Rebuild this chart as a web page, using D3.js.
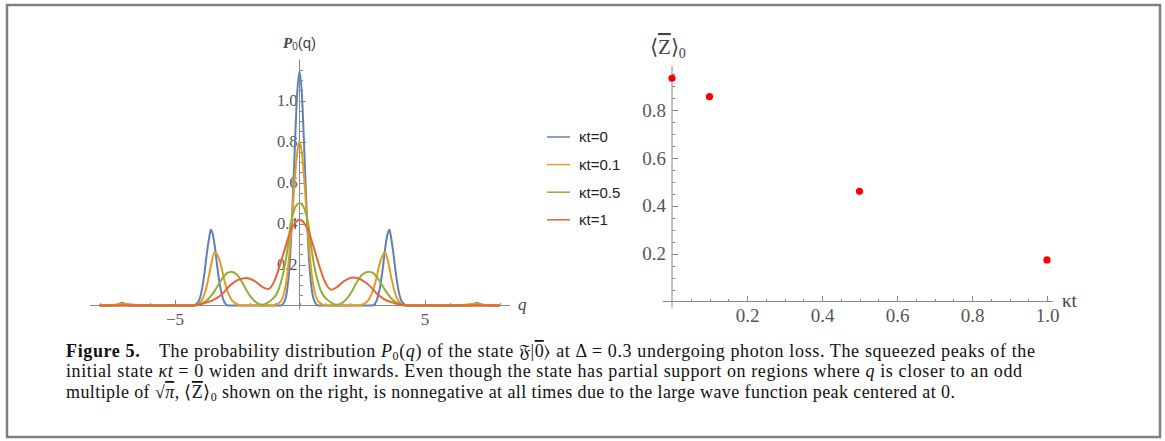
<!doctype html>
<html>
<head>
<meta charset="utf-8">
<script src="https://d3js.org/d3.v7.min.js"></script>
<style type='text/css'>
  body{ margin:0; background:#fff; }
  g.ax line{ stroke:#888; stroke-width:1px; shape-rendering:crispEdges; }
  g.ax path.domain{ display:none; }
  g.ax text{ font-family:"Liberation Serif",Tinos,"Times New Roman",Times,serif; fill:#555; }
  path.curve{ fill:none; stroke-width:2px; }
  .cap{ font-family:"Liberation Serif",Tinos,"Times New Roman",Times,serif; font-size:18px; fill:#111; }
</style>
</head>
<body>
<svg id='fig' width="1165" height="441"></svg>
<script type='text/javascript'>
// ---- data ----
var seriesNames = ['κt=0','κt=0.1','κt=0.5','κt=1'];
var seriesColors = ['#5e81b5','#e19c24','#8fb032','#eb6235'];

// P0(q) curves, [q, P0]
var curveKt0 = [[-8,0],[-7.5,0],[-7.3,0.004],[-7.1,0.012],[-6.9,0.004],[-6.7,0],
  [-4.25,0],[-4.1,0.01],[-4.0,0.03],[-3.9,0.08],[-3.8,0.16],[-3.7,0.26],[-3.6,0.34],[-3.55,0.37],[-3.5,0.36],[-3.4,0.3],[-3.3,0.2],[-3.2,0.11],[-3.1,0.05],[-3.0,0.015],[-2.85,0],
  [-0.75,0],[-0.6,0.02],[-0.5,0.07],[-0.4,0.19],[-0.3,0.42],[-0.2,0.73],[-0.1,1.02],[0,1.14],[0.1,1.02],[0.2,0.73],[0.3,0.42],[0.4,0.19],[0.5,0.07],[0.6,0.02],[0.75,0],
  [2.9,0],[3.05,0.015],[3.15,0.05],[3.25,0.11],[3.35,0.2],[3.45,0.3],[3.55,0.36],[3.6,0.37],[3.65,0.34],[3.75,0.26],[3.85,0.16],[3.95,0.08],[4.05,0.03],[4.15,0.01],[4.3,0],
  [6.7,0],[6.9,0.004],[7.1,0.012],[7.3,0.004],[7.5,0],[8,0]];
var curveKt01 = [[-8,0],[-7.7,0],[-7.4,0.004],[-7.0,0.008],[-6.6,0.004],[-6.3,0],
  [-4.15,0],[-4.0,0.01],[-3.85,0.04],[-3.7,0.1],[-3.55,0.19],[-3.4,0.26],[-3.3,0.25],[-3.15,0.2],[-3.0,0.12],[-2.85,0.06],[-2.7,0.025],[-2.5,0.006],[-2.3,0],
  [-1.05,0],[-0.85,0.01],[-0.7,0.03],[-0.6,0.07],[-0.5,0.14],[-0.4,0.26],[-0.3,0.42],[-0.2,0.6],[-0.1,0.74],[0,0.8],[0.1,0.74],[0.2,0.6],[0.3,0.42],[0.4,0.26],[0.5,0.14],[0.6,0.07],[0.7,0.03],[0.85,0.01],[1.05,0],
  [2.35,0],[2.55,0.006],[2.75,0.025],[2.9,0.06],[3.05,0.12],[3.2,0.2],[3.35,0.25],[3.42,0.26],[3.55,0.21],[3.7,0.12],[3.85,0.05],[4.0,0.015],[4.2,0],
  [6.3,0],[6.6,0.004],[7.0,0.008],[7.4,0.004],[7.7,0],[8,0]];
var curveKt05 = [[-8,0],[-4.3,0],[-4.0,0.006],[-3.7,0.025],[-3.4,0.07],[-3.1,0.13],[-2.9,0.158],[-2.73,0.165],[-2.5,0.15],[-2.3,0.115],[-2.1,0.07],[-1.9,0.035],[-1.7,0.012],[-1.5,0.004],
  [-1.3,0.012],[-1.1,0.03],[-0.9,0.06],[-0.75,0.11],[-0.58,0.2],[-0.45,0.3],[-0.35,0.4],[-0.2,0.47],[0,0.5],[0.2,0.47],[0.35,0.4],[0.45,0.3],[0.58,0.2],[0.75,0.11],[0.9,0.06],[1.1,0.03],[1.3,0.012],
  [1.5,0.004],[1.7,0.012],[1.9,0.035],[2.1,0.07],[2.3,0.115],[2.5,0.15],[2.78,0.165],[2.95,0.158],[3.15,0.13],[3.45,0.07],[3.75,0.025],[4.05,0.006],[4.35,0],[8,0]];
var curveKt1 = [[-8,0],[-4.3,0],[-4.0,0.005],[-3.7,0.015],[-3.4,0.03],[-3.1,0.055],[-2.8,0.095],[-2.5,0.122],[-2.13,0.134],[-1.8,0.12],[-1.5,0.092],[-1.26,0.08],[-1.0,0.12],[-0.8,0.19],[-0.6,0.27],[-0.4,0.35],[-0.2,0.4],[0,0.418],
  [0.2,0.4],[0.4,0.35],[0.6,0.27],[0.8,0.19],[1.0,0.12],[1.28,0.077],[1.5,0.09],[1.8,0.12],[2.16,0.136],[2.5,0.124],[2.8,0.097],[3.1,0.057],[3.4,0.03],[3.7,0.015],[4.0,0.005],[4.3,0],[8,0]];
var curves = [curveKt0, curveKt01, curveKt05, curveKt1];

var qMajor = [-5,5];
var qMinor = d3.range(-8,9,1);
var pMajor = [0.2,0.4,0.6,0.8,1.0];
var pMinor = d3.range(0.05,1.2,0.05);

// <Z>_0 vs kappa t
var ktValues = [0, 0.1, 0.5, 1.0];
var zValues = [0.934, 0.857, 0.461, 0.174];
var ktMajor = [0.2,0.4,0.6,0.8,1.0];
var ktMinor = d3.range(0.05,1.01,0.05);
var zMajor = [0.2,0.4,0.6,0.8];
var zMinor = d3.range(0.05,0.96,0.05);

var svg = d3.select('#fig');

// frame
svg.append('rect').attr('x',7).attr('y',5).attr('width',1153).attr('height',432)
  .attr('fill','none').attr('stroke','#808080').attr('stroke-width',2.5);

// ---------- left plot ----------
var xL = d3.scaleLinear().domain([-8,8]).range([99.5,499.5]);
var yL = d3.scaleLinear().domain([0,1]).range([305.5,100.5]);

function ticksX(g, sc, minor, major, fmt, fs){
  g.append('g').attr('class','ax').call(d3.axisBottom(sc).tickValues(minor).tickSize(-3).tickFormat(''));
  var a = g.append('g').attr('class','ax').call(d3.axisBottom(sc).tickValues(major).tickSize(-6).tickPadding(7).tickFormat(fmt));
  a.selectAll('text').style('font-size',fs+'px');
}
function ticksY(g, sc, minor, major, fmt, fs, pad){
  g.append('g').attr('class','ax').call(d3.axisLeft(sc).tickValues(minor).tickSize(-3).tickFormat(''));
  var a = g.append('g').attr('class','ax').call(d3.axisLeft(sc).tickValues(major).tickSize(-6).tickPadding(pad).tickFormat(fmt));
  a.selectAll('text').style('font-size',fs+'px');
}

var gL = svg.append('g');
var gLx = gL.append('g').attr('transform','translate(0,'+yL(0)+')');
gLx.append('line').attr('x1',xL(-8.38)).attr('x2',xL(8.42)).attr('stroke','#888');
ticksX(gLx, xL, qMinor, qMajor, d=>d<0?'\u2212'+(-d):d, 17);
var gLy = gL.append('g').attr('transform','translate('+xL(0)+',0)');
gLy.append('line').attr('y1',yL(0)+4).attr('y2',yL(1.2)).attr('stroke','#888');
ticksY(gLy, yL, pMinor, pMajor, d3.format('.1f'), 16.5, 2);

var line = d3.line().x(d=>xL(d[0])).y(d=>yL(d[1])).curve(d3.curveMonotoneX);
gL.selectAll('path.curve').data(curves).enter().append('path')
  .attr('class','curve').attr('d',line).attr('stroke',(d,i)=>seriesColors[i]);

// axis labels
var pl = svg.append('text').attr('x',xL(0)).attr('y',48).attr('text-anchor','middle').style('font-size','15px').style('fill','#444');
pl.append('tspan').style('font-family','Liberation Serif, serif').style('font-style','italic').style('font-weight','bold').text('P');
pl.append('tspan').style('font-family','Liberation Sans, sans-serif').style('font-size','10px').attr('dy',2).text('0');
pl.append('tspan').style('font-family','Liberation Sans, sans-serif').attr('dy',-2).text('(q)');
svg.append('text').attr('x',518).attr('y',310).style('font-family','Liberation Serif, serif')
  .style('font-style','italic').style('font-size','17px').style('fill','#444').text('q');

// legend
var lg = svg.append('g').attr('transform','translate(547,137)');
seriesNames.forEach(function(n,i){
  var r = lg.append('g').attr('transform','translate(0,'+(i*27.6)+')');
  r.append('line').attr('x1',0).attr('x2',23).attr('stroke',seriesColors[i]).attr('stroke-width',1.5);
  r.append('text').attr('x',32).attr('dy','0.36em').style('font-family','Liberation Sans, Arial, sans-serif')
    .style('font-size','15px').style('fill','#222').text(n);
});

// ---------- right plot ----------
var xR = d3.scaleLinear().domain([0,1]).range([672,1047]);
var yR = d3.scaleLinear().domain([0,1]).range([301.5,62.5]);
var gR = svg.append('g');
var gRx = gR.append('g').attr('transform','translate(0,'+yR(0)+')');
gRx.append('line').attr('x1',xR(-0.025)).attr('x2',xR(1.016)).attr('stroke','#888');
ticksX(gRx, xR, ktMinor, ktMajor, d3.format('.1f'), 19);
var gRy = gR.append('g').attr('transform','translate('+xR(0)+',0)');
gRy.append('line').attr('y1',yR(0)+6).attr('y2',yR(0.985)).attr('stroke','#888');
ticksY(gRy, yR, zMinor, zMajor, d3.format('.1f'), 19, 6);

gR.selectAll('circle.pt').data(ktValues).enter().append('circle').attr('class','pt')
  .attr('cx',d=>xR(d)).attr('cy',(d,i)=>yR(zValues[i])).attr('r',3.6).attr('fill','#f00');

svg.append('text').attr('x',1062).attr('y',307).style('font-family','Liberation Serif, serif')
  .style('font-size','19px').style('fill','#444').text('κt');
var zl = svg.append('text').attr('x',650).attr('y',54).style('font-family','Liberation Serif, serif')
  .style('font-size','21px').style('fill','#444');
zl.append('tspan').text('\u27e8');
zl.append('tspan').style('text-decoration','overline').text('Z');
zl.append('tspan').text('\u27e9');
zl.append('tspan').style('font-size','14px').attr('dy',4).text('0');

// ---------- caption ----------
function capLine(y, w, parts){
  var t = svg.append('text').attr('class','cap').attr('x',66).attr('y',y)
    .attr('textLength',w).attr('lengthAdjust','spacing');
  parts.forEach(function(p){
    var s = t.append('tspan').text(p[0]);
    if(p[1]) s.style('font-style','italic');
    if(p[2]) s.style('font-weight','bold');
    if(p[3]) s.attr('dy',p[3]).style('font-size','12px');
    if(p[4]) s.attr('dy',p[4]);
    if(p[5]) s.style('text-decoration','overline');
  });
}
capLine(357, 969, [['Figure 5.',0,1],['\u2003The probability distribution '],['P',1],['0',0,0,3],['(',0,0,0,-3],['q',1],[') of the state \ud835\udd09|'],['0',0,0,0,0,1],['\u27e9 at \u0394 = 0.3 undergoing photon loss. The squeezed peaks of the']]);
capLine(377, 956, [['initial state '],['\u03bat',1],[' = 0 widen and drift inwards. Even though the state has partial support on regions where '],['q',1],[' is closer to an odd']]);
capLine(398, 889, [['multiple of \u221a'],['\u03c0',1,0,0,0,1],[', \u27e8'],['Z',0,0,0,0,1],['\u27e9'],['0',0,0,3],[' shown on the right, is nonnegative at all times due to the large wave function peak centered at 0.',0,0,0,-3]]);
</script>
</body>
</html>
